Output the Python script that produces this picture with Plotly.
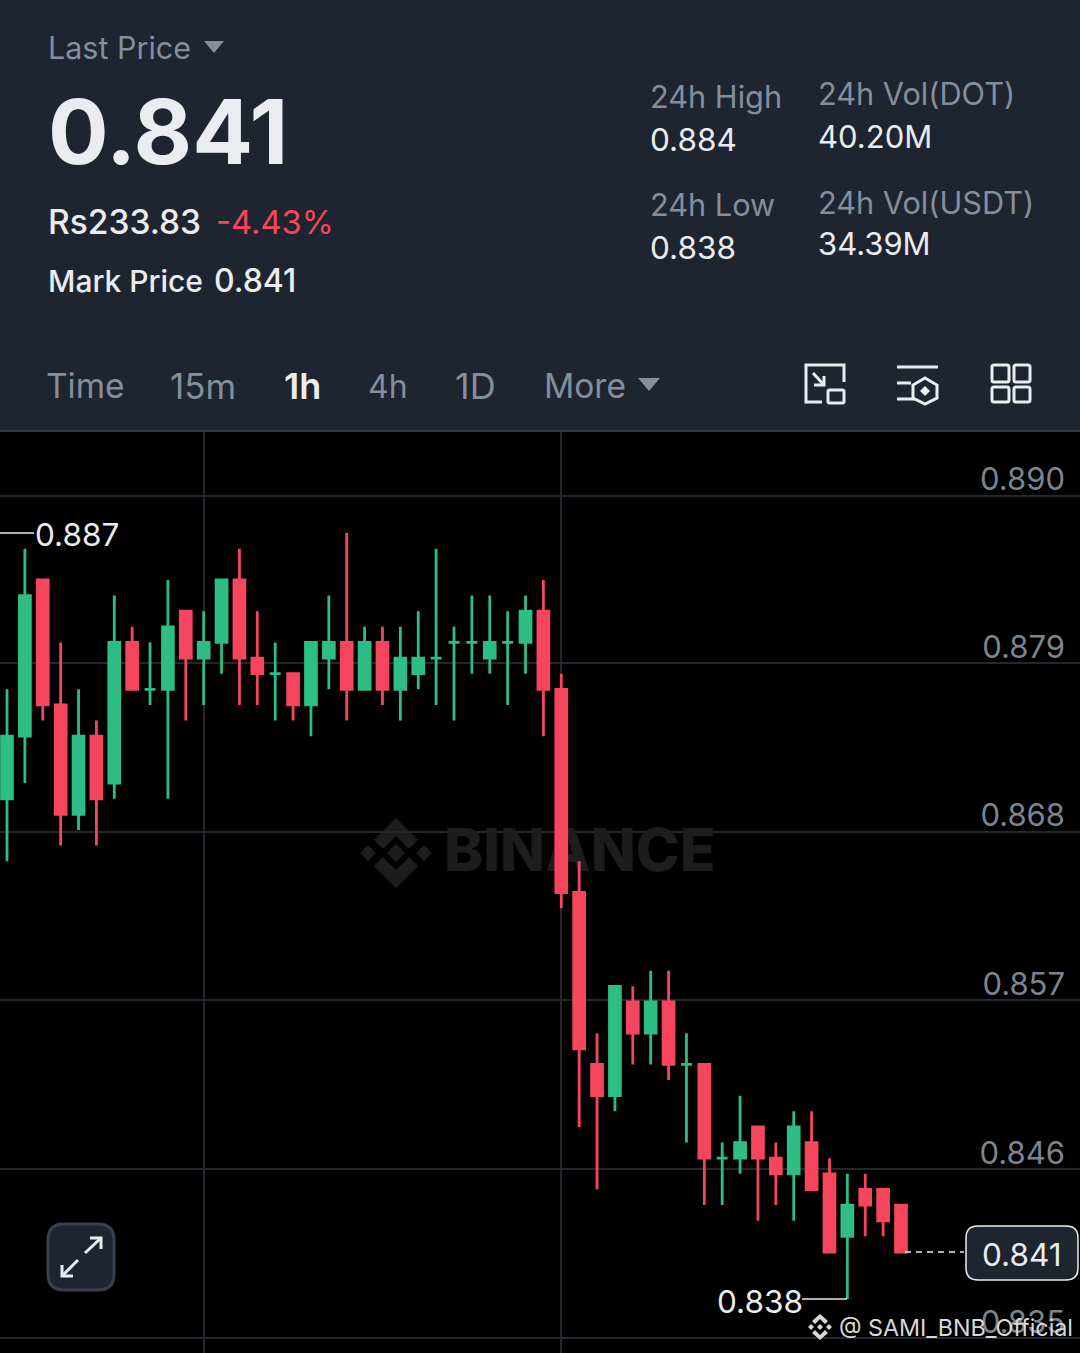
import plotly.graph_objects as go

W = 1080
H = 1353

# hourly candles
open_prices = [0.870, 0.874, 0.884, 0.876, 0.869, 0.874, 0.871, 0.880, 0.877, 0.877, 0.882, 0.879, 0.880,
               0.884, 0.879, 0.878, 0.878, 0.876, 0.879, 0.880, 0.877, 0.880, 0.877, 0.878, 0.879, 0.880,
               0.880, 0.879, 0.880, 0.880, 0.882, 0.877, 0.864, 0.853, 0.851, 0.857, 0.855, 0.857, 0.853,
               0.853, 0.847, 0.847, 0.849, 0.847, 0.846, 0.848, 0.846, 0.842, 0.845, 0.845, 0.844]
high_prices = [0.877, 0.886, 0.884, 0.880, 0.877, 0.875, 0.883, 0.881, 0.880, 0.884, 0.882, 0.882, 0.884,
               0.886, 0.882, 0.880, 0.878, 0.880, 0.883, 0.887, 0.881, 0.881, 0.881, 0.882, 0.886, 0.881,
               0.883, 0.883, 0.882, 0.883, 0.884, 0.878, 0.866, 0.855, 0.858, 0.858, 0.859, 0.859, 0.855,
               0.853, 0.848, 0.851, 0.849, 0.848, 0.850, 0.850, 0.847, 0.846, 0.846, 0.845, 0.844]
low_prices = [0.866, 0.871, 0.875, 0.867, 0.868, 0.867, 0.870, 0.877, 0.876, 0.870, 0.875, 0.876, 0.878,
              0.876, 0.876, 0.875, 0.875, 0.874, 0.877, 0.875, 0.877, 0.876, 0.875, 0.877, 0.876, 0.875,
              0.878, 0.878, 0.876, 0.878, 0.874, 0.863, 0.849, 0.845, 0.850, 0.853, 0.853, 0.852, 0.848,
              0.844, 0.844, 0.846, 0.843, 0.844, 0.843, 0.845, 0.841, 0.838, 0.842, 0.842, 0.841]
close_prices = [0.874, 0.883, 0.876, 0.869, 0.874, 0.870, 0.880, 0.877, 0.877, 0.881, 0.879, 0.880, 0.884,
                0.879, 0.878, 0.878, 0.876, 0.880, 0.880, 0.877, 0.880, 0.877, 0.879, 0.879, 0.879, 0.880,
                0.880, 0.880, 0.880, 0.882, 0.877, 0.864, 0.854, 0.851, 0.858, 0.855, 0.857, 0.853, 0.853,
                0.847, 0.847, 0.848, 0.847, 0.846, 0.849, 0.845, 0.841, 0.844, 0.844, 0.843, 0.841]
hours = list(range(len(open_prices)))

grid_prices = [0.8894, 0.8787, 0.8679, 0.8571, 0.8463, 0.8355]
grid_labels = ["0.890", "0.879", "0.868", "0.857", "0.846", "0.835"]
grid_hours = [11, 31]

period_labels = ["Time", "15m", "1h", "4h", "1D", "More"]

HEADER_BG = "#1e2530"
WHITE = "#eaecef"
GRAY = "#848e9c"
GREEN = "#2ebd85"
RED = "#f6465d"
FONT = "Inter"

# px -> axis scale of the chart panel
X_PER_CANDLE = 17.88
Y_PER_UNIT = 15630
CHART_TOP = 432


def px(x):
    return x / W


def py(y):
    return 1 - y / H


def price_at(y):
    return 0.841 + (1252 - y) / Y_PER_UNIT


def hour_at(x):
    return (x - 7) / X_PER_CANDLE


def path(points, close=False):
    out = "M " + " L ".join(f"{px(x):.5f} {py(y):.5f}" for x, y in points)
    return out + (" Z" if close else "")


def round_rect(x0, y0, x1, y1, r):
    def a(x, y):
        return f"{px(x):.5f} {py(y):.5f}"
    return (f"M {a(x0 + r, y0)} L {a(x1 - r, y0)} Q {a(x1, y0)} {a(x1, y0 + r)} "
            f"L {a(x1, y1 - r)} Q {a(x1, y1)} {a(x1 - r, y1)} L {a(x0 + r, y1)} "
            f"Q {a(x0, y1)} {a(x0, y1 - r)} L {a(x0, y0 + r)} Q {a(x0, y0)} {a(x0 + r, y0)} Z")


def icon_line(points, color=WHITE, width=3, close=False):
    return dict(type="path", path=path(points, close), xref="paper", yref="paper",
                line=dict(color=color, width=width))


def filled(points, color, layer="above"):
    return dict(type="path", path=path(points, True), xref="paper", yref="paper",
                fillcolor=color, line=dict(width=0), layer=layer)


def box(x0, y0, x1, y1, r, fill=None, line=WHITE, width=3, layer="above"):
    return dict(type="path", path=round_rect(x0, y0, x1, y1, r), xref="paper", yref="paper",
                fillcolor=fill, line=dict(color=line, width=width), layer=layer)


def label(x, y, text, size, color=GRAY, weight=400, anchor="left"):
    return dict(xref="paper", yref="paper", x=px(x), y=py(y), text=text, showarrow=False,
                xanchor=anchor, yanchor="middle", xshift=-2 if anchor == "left" else 0,
                font=dict(family=FONT, size=size, color=color, weight=weight))


up = [c >= o for o, c in zip(open_prices, close_prices)]


def pick(values, keep):
    return [v for v, k in zip(values, up) if k == keep]


fig = go.Figure()

# watermark sits on the lower axes so the candles cover it
fig.add_trace(go.Scatter(
    x=[hour_at(444)], y=[price_at(856)], mode="text", text=["BINANCE"],
    textposition="middle right", hoverinfo="skip", showlegend=False,
    textfont=dict(family=FONT, size=59, color="#1d1d1d", weight=800),
))

for keep, color in [(True, GREEN), (False, RED)]:
    side = dict(line=dict(color=color, width=2.8), fillcolor=color)
    fig.add_trace(go.Candlestick(
        x=pick(hours, keep), open=pick(open_prices, keep), high=pick(high_prices, keep),
        low=pick(low_prices, keep), close=pick(close_prices, keep),
        increasing=side, decreasing=side, whiskerwidth=0, showlegend=False,
        xaxis="x2", yaxis="y2",
    ))

x_range = [hour_at(0), hour_at(W)]
y_range = [price_at(H), price_at(CHART_TOP)]
chart_domain = [0, (H - CHART_TOP) / H]

shapes = [
    # header panel edge
    dict(type="line", xref="paper", yref="paper", x0=0, x1=1, y0=py(431), y1=py(431),
         line=dict(color="#333a45", width=2)),
    # carets
    filled([(204, 41), (224, 41), (214, 53)], GRAY),
    filled([(638, 378), (660, 378), (649, 391)], GRAY),
    # layout icon
    icon_line([(822, 402), (806, 402), (806, 365), (844, 365), (844, 382)]),
    box(828, 390, 844, 403, 1.5),
    icon_line([(813, 373), (824, 385)]),
    icon_line([(824, 376), (824, 385), (814, 385)]),
    # indicator icon
    icon_line([(897, 367), (938, 367)]),
    icon_line([(897, 383), (911, 383)]),
    icon_line([(897, 399), (915, 399)]),
    icon_line([(925, 378), (937, 385), (937, 398), (925, 404), (913, 398), (913, 385)], close=True),
    filled([(925, 386), (930, 391), (925, 396), (920, 391)], WHITE),
    # grid icon
    box(992, 365, 1009, 382, 2),
    box(1014, 365, 1030, 382, 2),
    box(992, 387, 1009, 402, 2),
    box(1014, 387, 1030, 402, 2),
    # binance watermark logo
    filled([(396, 818), (418, 840), (409, 849), (396, 836), (383, 849), (374, 840)], "#1d1d1d", "below"),
    filled([(396, 888), (418, 866), (409, 857), (396, 870), (383, 857), (374, 866)], "#1d1d1d", "below"),
    filled([(396, 844), (405, 853), (396, 862), (387, 853)], "#1d1d1d", "below"),
    filled([(368, 845), (376, 853), (368, 861), (360, 853)], "#1d1d1d", "below"),
    filled([(424, 845), (432, 853), (424, 861), (416, 853)], "#1d1d1d", "below"),
    # high / low / last markers
    dict(type="line", xref="paper", yref="y", x0=0, x1=px(34), y0=0.887, y1=0.887,
         line=dict(color=WHITE, width=1.5)),
    dict(type="line", xref="paper", yref="y", x0=px(802), x1=px(847), y0=0.838, y1=0.838,
         line=dict(color=WHITE, width=1.5)),
    dict(type="line", xref="paper", yref="y", x0=px(905), x1=px(964), y0=0.841, y1=0.841,
         line=dict(color=WHITE, width=1.5, dash="6px,5px")),
    box(966, 1226, 1078, 1280, 12, HEADER_BG, WHITE, 1.5),
    # fullscreen button
    box(48, 1224, 114, 1290, 16, HEADER_BG, "#3a404b", 3),
    icon_line([(85, 1253), (101, 1238)]),
    icon_line([(90, 1238), (101, 1238), (101, 1249)]),
    icon_line([(78, 1260), (62, 1276)]),
    icon_line([(62, 1265), (62, 1276), (73, 1276)]),
    # footer logo
    filled([(820, 1314), (828, 1321), (825, 1324), (820, 1319), (815, 1324), (812, 1321)], "#d8d8d8"),
    filled([(820, 1340), (828, 1333), (825, 1330), (820, 1335), (815, 1330), (812, 1333)], "#d8d8d8"),
    filled([(820, 1324), (823, 1327), (820, 1330), (817, 1327)], "#d8d8d8"),
    filled([(811, 1324), (814, 1327), (811, 1330), (808, 1327)], "#d8d8d8"),
    filled([(829, 1324), (832, 1327), (829, 1330), (826, 1327)], "#d8d8d8"),
]

annotations = [
    label(48, 47, "Last Price", 30.5),
    label(48, 132, "0.841", 90, WHITE, 700),
    label(48, 222, "Rs233.83", 33.5, WHITE, 500),
    label(216, 222, "-4.43%", 32.7, RED, 400),
    label(48, 281, "Mark Price", 30, WHITE, 500),
    label(214, 281, "0.841", 32, WHITE, 500),
    label(650, 97, "24h High", 30.7),
    label(650, 139, "0.884", 31.5, WHITE),
    label(818, 94, "24h Vol(DOT)", 30.7),
    label(818, 136, "40.20M", 31, WHITE),
    label(650, 205, "24h Low", 30.7),
    label(650, 247, "0.838", 31.5, WHITE),
    label(818, 202, "24h Vol(USDT)", 30.7),
    label(818, 244, "34.39M", 31, WHITE),
    label(35, 534, "0.887", 31.5, WHITE),
    label(717, 1301, "0.838", 31.5, WHITE),
    label(1021, 1254, "0.841", 31.5, WHITE, anchor="center"),
    label(839, 1327, "@ SAMI_BNB_Official", 23.3, "#d8d8d8"),
]
for text, x, size in zip(period_labels, [46, 170, 284, 368, 455, 544], [33.5, 35, 36, 32, 36, 33.5]):
    selected = text == "1h"
    annotations.append(label(x, 386, text, size, WHITE if selected else GRAY, 600 if selected else 400))

fig.update_layout(
    width=W,
    height=H,
    margin=dict(l=0, r=0, t=0, b=0),
    paper_bgcolor=HEADER_BG,
    plot_bgcolor="#000000",
    showlegend=False,
    xaxis=dict(domain=[0, 1], range=x_range, tickvals=grid_hours, showticklabels=False, ticks="",
               showgrid=True, gridcolor="#24272e", gridwidth=1.5, zeroline=False, showline=False),
    yaxis=dict(domain=chart_domain, range=y_range, side="right", tickvals=grid_prices, ticktext=grid_labels,
               ticklabelposition="inside", ticklabelshift=-16, ticklabelstandoff=12, ticks="",
               tickfont=dict(family=FONT, size=31, color="#7d848f"),
               showgrid=True, gridcolor="#24272e", gridwidth=1.5, zeroline=False, showline=False),
    xaxis2=dict(domain=[0, 1], range=x_range, overlaying="x", anchor="y2", visible=False,
                rangeslider=dict(visible=False)),
    yaxis2=dict(domain=chart_domain, range=y_range, overlaying="y", anchor="x2", visible=False),
    boxgap=0.13,
    shapes=shapes,
    annotations=annotations,
)

fig.write_html("out.html", config=dict(displayModeBar=False), post_script="document.body.style.margin='0';")
